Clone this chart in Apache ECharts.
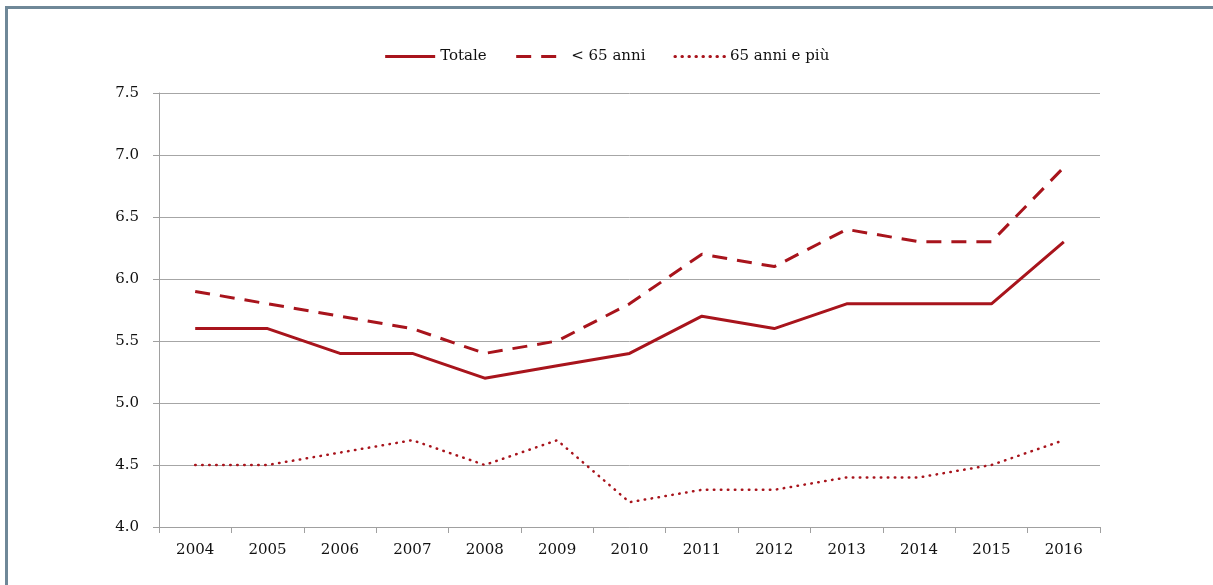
<!DOCTYPE html>
<html>
<head>
<meta charset="utf-8">
<script src="https://cdn.jsdelivr.net/npm/echarts@6/dist/echarts.min.js"></script>
<style>
  html, body { margin: 0; padding: 0; background: #fff; overflow: hidden; }
  #frame { position: absolute; left: 5px; top: 6px; width: 1300px; height: 700px;
           border-left: 3px solid #6f8898; border-top: 3px solid #6f8898; }
  #chart { position: absolute; left: 0; top: 0; width: 1213px; height: 585px; }
</style>
</head>
<body>
<div id="frame"></div>
<div id="chart"></div>
<script>
  var anni = ['2004','2005','2006','2007','2008','2009','2010','2011','2012','2013','2014','2015','2016'];
  var totale = [5.6, 5.6, 5.4, 5.4, 5.2, 5.3, 5.4, 5.7, 5.6, 5.8, 5.8, 5.8, 6.3];
  var sotto65 = [5.9, 5.8, 5.7, 5.6, 5.4, 5.5, 5.8, 6.2, 6.1, 6.4, 6.3, 6.3, 6.9];
  var oltre65 = [4.5, 4.5, 4.6, 4.7, 4.5, 4.7, 4.2, 4.3, 4.3, 4.4, 4.4, 4.5, 4.7];

  var rosso = '#a8141c';
  var font = 'DejaVu Serif';

  var chart = echarts.init(document.getElementById('chart'));
  chart.setOption({
    animation: false,
    legend: {
      top: 44,
      left: 'center',
      itemWidth: 50,
      itemHeight: 14,
      itemGap: 28,
      itemStyle: { opacity: 0 },
      lineStyle: { width: 3 },
      textStyle: { fontFamily: font, fontSize: 15, color: '#111' },
      data: ['Totale', '< 65 anni', '65 anni e più']
    },
    grid: { left: 159, right: 113, top: 93, bottom: 58 },
    xAxis: {
      type: 'category',
      data: anni,
      boundaryGap: true,
      axisLine: { lineStyle: { color: '#a0a0a0', width: 1 } },
      axisTick: { show: true, length: 6, lineStyle: { color: '#a0a0a0' } },
      axisLabel: { fontFamily: font, fontSize: 15, color: '#111', margin: 16 }
    },
    yAxis: {
      type: 'value',
      min: 4,
      max: 7.5,
      interval: 0.5,
      axisLine: { show: true, lineStyle: { color: '#a0a0a0', width: 1 } },
      axisTick: { show: true, length: 6, lineStyle: { color: '#a0a0a0' } },
      splitLine: { lineStyle: { color: '#a6a6a6', width: 1 } },
      axisLabel: {
        fontFamily: font, fontSize: 15, color: '#111', margin: 20,
        formatter: function (v) { return v.toFixed(1); }
      }
    },
    series: [
      {
        name: 'Totale',
        type: 'line',
        symbol: 'none',
        data: totale,
        lineStyle: { color: rosso, width: 3 },
        itemStyle: { color: rosso }
      },
      {
        name: '< 65 anni',
        type: 'line',
        symbol: 'none',
        data: sotto65,
        lineStyle: { color: rosso, width: 3, type: [15, 10] },
        itemStyle: { color: rosso }
      },
      {
        name: '65 anni e più',
        type: 'line',
        symbol: 'none',
        data: oltre65,
        lineStyle: { color: rosso, width: 2.5, type: [0.5, 6.5], cap: 'round' },
        itemStyle: { color: rosso }
      }
    ]
  });
</script>
</body>
</html>
